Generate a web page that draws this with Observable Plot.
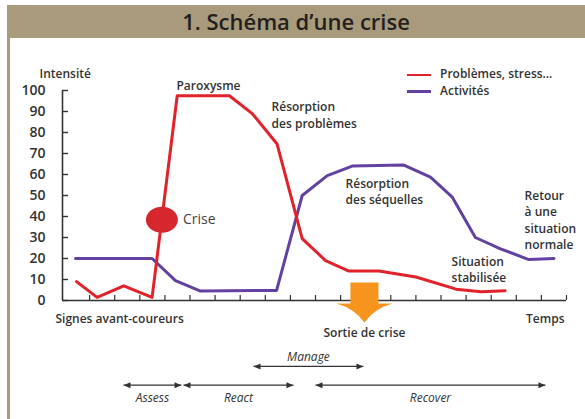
<!DOCTYPE html>
<html>
<head>
<meta charset="utf-8">
<script src="https://cdn.jsdelivr.net/npm/d3@7"></script>
<script src="https://cdn.jsdelivr.net/npm/@observablehq/plot@0.6"></script>
<style>
  html, body { margin: 0; padding: 0; background: #fff; }
  #page { position: relative; width: 585px; height: 419px; overflow: hidden; font-family: "Open Sans", sans-serif; background: #fff; }
  #title { position: absolute; left: 7px; top: 5px; width: 578px; height: 33px; background: #a89a7a; color: #231f20;
           font-size: 22px; font-weight: 600; line-height: 33px; text-align: center; }
  #chart { position: absolute; left: 0; top: 38px; }
  #border { position: absolute; left: 7px; top: 38px; width: 3px; height: 381px; background: #a89a7a; z-index: 2; }
  #legend { position: absolute; left: 407px; top: 66px; font-size: 12px; font-weight: 600; color: #333; line-height: 16.5px; z-index: 2; }
  #legend .sw { display: inline-block; width: 24px; height: 2.5px; margin-right: 9px; vertical-align: middle; }
</style>
</head>
<body>
<div id="page">
  <div id="title">1. Schéma d’une crise</div>
  <div id="chart"></div>
  <div id="border"></div>
  <div id="legend"></div>
</div>
<script>
// ---- Data ----
const seriesNames = ["Problèmes, stress…", "Activités"];
const seriesColors = ["#e2222b", "#6241a0"];

const problemesT = [0.48, 1.30, 2.36, 3.49, 4.49, 6.57, 7.48, 8.47, 9.47, 10.40, 11.33, 12.52, 14.00, 15.60, 16.60, 17.55];
const problemesV = [9, 1.5, 7, 1.5, 97.5, 97.5, 89, 74.5, 29.5, 19, 14, 14, 11.2, 5.4, 4.2, 4.6];

const activitesT = [0.44, 3.49, 4.42, 5.42, 8.45, 9.47, 10.47, 11.46, 13.52, 14.58, 15.45, 16.37, 17.37, 18.50, 19.50];
const activitesV = [20, 20, 9.5, 4.5, 4.8, 50, 59.5, 64, 64.5, 58.7, 49.2, 30, 24.6, 19.5, 20];

const intensityTicks = [0, 10, 20, 30, 40, 50, 60, 70, 80, 90, 100];
const timeTicks = [1, 2, 3, 4, 5, 6, 7, 8, 9, 10, 11, 12, 13, 14, 15, 16, 17, 18, 19, 20];

const criseLabel = "Crise";
const criseT = 3.88, criseV = 38.4;

const sortieLabel = "Sortie de crise";
const sortieT = 11.95;

const noteText = ["Paroxysme", "Résorption\ndes problèmes", "Résorption\ndes séquelles", "Retour\nà une\nsituation\nnormale", "Situation\nstabilisée"];
const noteT = [4.46, 8.25, 11.2, 18.33, 15.42];
const noteV = [102.9, 88.6, 52.2, 38.7, 15.0];

const axisStartLabel = "Signes avant-coureurs";
const axisEndLabel = "Temps";
const yAxisLabel = "Intensité";

const phaseName = ["Assess", "React", "Manage", "Recover"];
const phaseStart = [2.35, 4.74, 7.53, 10.0];
const phaseEnd = [4.66, 9.12, 11.91, 19.16];
const phaseRow = [1, 1, 0, 1];

// ---- Build tables ----
const problemes = problemesT.map((t, i) => ({t, v: problemesV[i]}));
const activites = activitesT.map((t, i) => ({t, v: activitesV[i]}));
const notes = noteText.map((text, i) => ({text, t: noteT[i], v: noteV[i]}));
const rowLevel = [-31.4, -40.3];
const phases = phaseName.map((name, i) => ({name, start: phaseStart[i], end: phaseEnd[i], row: phaseRow[i], level: rowLevel[phaseRow[i]]}));

const ink = "#333";
const xDomain = [-0.08, 20];

// custom symbols
function ellipseSymbol(rx, ry) {
  const k = 0.5523;
  return {draw(ctx) {
    ctx.moveTo(rx, 0);
    ctx.bezierCurveTo(rx, ry * k, rx * k, ry, 0, ry);
    ctx.bezierCurveTo(-rx * k, ry, -rx, ry * k, -rx, 0);
    ctx.bezierCurveTo(-rx, -ry * k, -rx * k, -ry, 0, -ry);
    ctx.bezierCurveTo(rx * k, -ry, rx, -ry * k, rx, 0);
    ctx.closePath();
  }};
}
const exitArrow = {draw(ctx) {
  ctx.moveTo(-14, -18);
  ctx.lineTo(14, -18);
  ctx.lineTo(14, 3);
  ctx.lineTo(28, 3);
  ctx.quadraticCurveTo(10, 8, 0, 22);
  ctx.quadraticCurveTo(-10, 8, -28, 3);
  ctx.lineTo(-14, 3);
  ctx.closePath();
}};
const headLeft = {draw(ctx) { ctx.moveTo(0, 0); ctx.lineTo(7, -3); ctx.lineTo(7, 3); ctx.closePath(); }};
const headRight = {draw(ctx) { ctx.moveTo(0, 0); ctx.lineTo(-7, -3); ctx.lineTo(-7, 3); ctx.closePath(); }};

const font = "'Open Sans', sans-serif";

const chart = Plot.plot({
  width: 585,
  height: 381,
  marginLeft: 62,
  marginRight: 19,
  marginTop: 52,
  marginBottom: 119,
  x: {domain: xDomain, axis: null},
  y: {domain: [0, 100], axis: null},
  style: {background: "transparent", fontFamily: font, overflow: "visible"},
  marks: [
    // axes
    Plot.ruleY(intensityTicks, {stroke: ink, strokeWidth: 1.4, insetRight: 498}),
    Plot.ruleX(timeTicks, {stroke: ink, strokeWidth: 1.2, insetTop: 205}),
    Plot.ruleX([xDomain[0]], {stroke: ink, strokeWidth: 1.6}),
    Plot.ruleY([0], {stroke: ink, strokeWidth: 1.6}),
    Plot.text(intensityTicks, {y: d => d, text: d => String(d), frameAnchor: "left", textAnchor: "end", dx: -17,
      fontSize: 14, fontWeight: 600, fill: ink}),
    Plot.text([yAxisLabel], {frameAnchor: "top-left", text: d => d, textAnchor: "start", dx: -23, dy: -21,
      fontSize: 12, fontWeight: 600, fill: ink}),
    // series
    Plot.line(activites, {x: "t", y: "v", stroke: seriesColors[1], strokeWidth: 3}),
    Plot.line(problemes, {x: "t", y: "v", stroke: seriesColors[0], strokeWidth: 3}),
    // crise marker
    Plot.dot([{t: criseT, v: criseV}], {x: "t", y: "v", r: 14, symbol: ellipseSymbol(16, 13), fill: "#d6262e", stroke: "none"}),
    Plot.text([criseLabel], {x: criseT, y: criseV, text: d => d, dx: 21, textAnchor: "start", fontSize: 14, fill: "#444"}),
    // annotations
    Plot.text(notes, {x: "t", y: "v", text: "text", textAnchor: "start", lineHeight: 1.37, fontSize: 12, fontWeight: 600, fill: ink}),
    Plot.text([axisStartLabel], {x: -0.36, y: -9.05, text: d => d, textAnchor: "start", fontSize: 12, fontWeight: 600, fill: ink}),
    Plot.text([axisEndLabel], {x: 19.92, y: -9.05, text: d => d, textAnchor: "end", fontSize: 12, fontWeight: 600, fill: ink}),
    // exit arrow
    Plot.dot([{t: sortieT, v: 0}], {x: "t", y: "v", r: 10, symbol: exitArrow, fill: "#f7941e", stroke: "none"}),
    Plot.text([sortieLabel], {x: sortieT, y: -15.7, text: d => d, textAnchor: "middle", fontSize: 12, fontWeight: 600, fill: ink}),
    // phases
    Plot.link(phases, {x1: "start", x2: "end", y1: "level", y2: "level", stroke: ink, strokeWidth: 1.3}),
    Plot.dot(phases, {x: "start", y: "level", r: 3, symbol: headLeft, fill: ink, stroke: "none"}),
    Plot.dot(phases, {x: "end", y: "level", r: 3, symbol: headRight, fill: ink, stroke: "none"}),
    Plot.text(phases.filter(d => d.row === 1), {x: d => (d.start + d.end) / 2, y: "level", text: "name", dy: 13,
      fontSize: 12, fontStyle: "italic", fill: ink}),
    Plot.text(phases.filter(d => d.row === 0), {x: d => (d.start + d.end) / 2, y: "level", text: "name", dy: -9,
      fontSize: 12, fontStyle: "italic", fill: ink})
  ]
});
document.getElementById("chart").appendChild(chart);

// legend
const legend = document.getElementById("legend");
seriesNames.forEach((name, i) => {
  const row = document.createElement("div");
  const sw = document.createElement("span");
  sw.className = "sw";
  sw.style.background = seriesColors[i];
  row.appendChild(sw);
  row.appendChild(document.createTextNode(name));
  legend.appendChild(row);
});
</script>
</body>
</html>
